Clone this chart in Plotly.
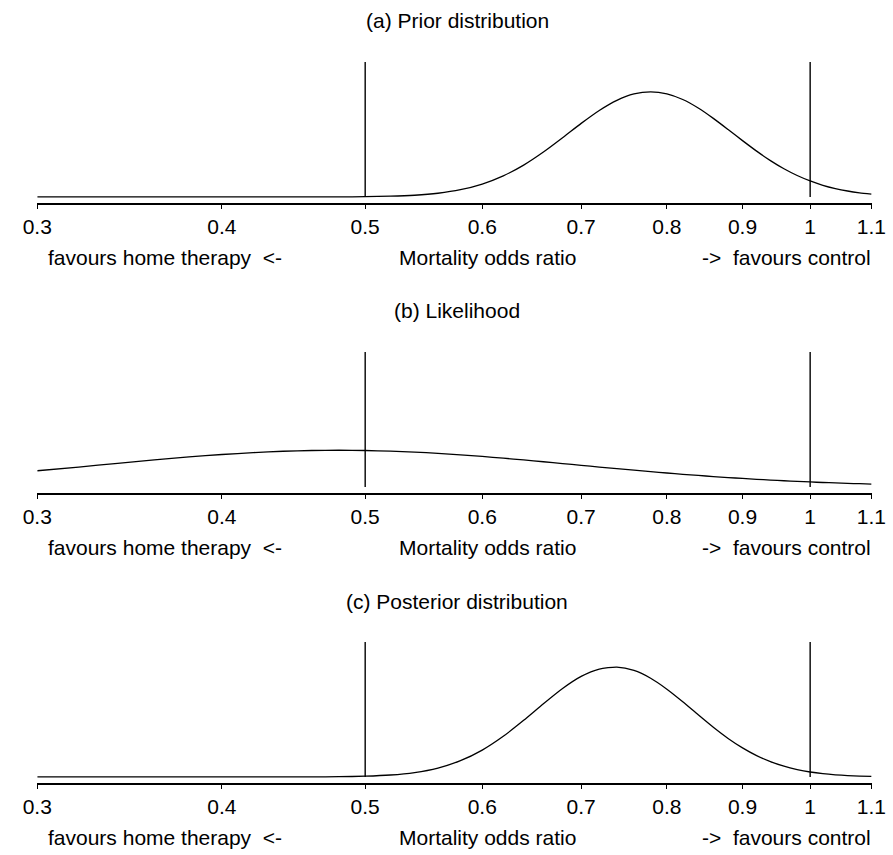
import math
import plotly.graph_objects as go

# ---- data ----
odds_ratio = [0.30, 0.32, 0.34, 0.36, 0.38, 0.40, 0.42, 0.44, 0.46, 0.48,
              0.50, 0.52, 0.54, 0.56, 0.58, 0.60, 0.62, 0.64, 0.66, 0.68,
              0.70, 0.72, 0.74, 0.76, 0.78, 0.80, 0.82, 0.84, 0.86, 0.88,
              0.90, 0.92, 0.94, 0.96, 0.98, 1.00, 1.02, 1.04, 1.06, 1.08, 1.10]

prior = [0, 0, 0, 0, 0, 0, 0, 0, 0.001, 0.002,
         0.008, 0.021, 0.050, 0.109, 0.214, 0.382, 0.625, 0.944, 1.331, 1.755,
         2.181, 2.564, 2.864, 3.054, 3.117, 3.056, 2.888, 2.636, 2.329, 1.998,
         1.669, 1.357, 1.077, 0.835, 0.635, 0.474, 0.346, 0.249, 0.176, 0.123, 0.085]

likelihood = [0.479, 0.590, 0.699, 0.800, 0.888, 0.961, 1.017, 1.057, 1.080, 1.087,
              1.080, 1.061, 1.032, 0.995, 0.952, 0.904, 0.852, 0.800, 0.746, 0.693,
              0.641, 0.590, 0.542, 0.496, 0.453, 0.413, 0.375, 0.340, 0.308, 0.278,
              0.251, 0.226, 0.203, 0.183, 0.164, 0.147, 0.132, 0.118, 0.106, 0.095, 0.085]

posterior = [0, 0, 0, 0, 0, 0, 0, 0, 0.002, 0.007,
             0.022, 0.057, 0.130, 0.264, 0.482, 0.796, 1.204, 1.678, 2.171, 2.624,
             2.982, 3.199, 3.255, 3.156, 2.926, 2.602, 2.229, 1.842, 1.472, 1.141,
             0.861, 0.632, 0.453, 0.317, 0.218, 0.146, 0.097, 0.063, 0.040, 0.025, 0.016]

ref_lines = [0.5, 1.0]
ref_top = 4.0

tick_vals = [0.3, 0.4, 0.5, 0.6, 0.7, 0.8, 0.9, 1.0, 1.1]
tick_text = ["0.3", "0.4", "0.5", "0.6", "0.7", "0.8", "0.9", "1", "1.1"]

panel_titles = ["(a) Prior distribution", "(b) Likelihood", "(c) Posterior distribution"]
series = [prior, likelihood, posterior]
left_label = "favours home therapy\u00a0\u00a0<-"
mid_label = "Mortality odds ratio"
right_label = "->\u00a0\u00a0favours control"

# ---- layout geometry ----
W, H = 893, 855
x_left_px, x_right_px = 23, 886
axis_px = [203, 493, 783]
plot_h = 141
FONT = "Liberation Sans, Arial, Helvetica, sans-serif"
FS = 21

fig = go.Figure()
annotations = []
for i, (title, ys) in enumerate(zip(panel_titles, series)):
    n = "" if i == 0 else str(i + 1)
    xa, ya = "x" + n, "y" + n
    fig.add_trace(go.Scatter(x=odds_ratio, y=ys, mode="lines",
                             line=dict(color="black", width=1.3, shape="spline", smoothing=0.6),
                             xaxis=xa, yaxis=ya, showlegend=False, hoverinfo="skip"))
    for rl in ref_lines:
        fig.add_trace(go.Scatter(x=[rl, rl], y=[0, ref_top], mode="lines",
                                 line=dict(color="black", width=1.4),
                                 xaxis=xa, yaxis=ya, showlegend=False, hoverinfo="skip"))
    bottom = 1 - axis_px[i] / H
    top = 1 - (axis_px[i] - plot_h) / H
    fig.layout["xaxis" + n] = dict(
        type="log", range=[math.log10(0.3), math.log10(1.1) + 0.0006],
        domain=[x_left_px / W, x_right_px / W], anchor=ya,
        showline=True, linecolor="black", linewidth=1.5, mirror=False,
        ticks="outside", ticklen=4, tickwidth=1.3, tickcolor="black",
        tickvals=tick_vals, ticktext=tick_text, showgrid=False, zeroline=False,
        ticklabeloverflow="allow",
        tickfont=dict(family=FONT, size=FS, color="black"), fixedrange=True)
    fig.layout["yaxis" + n] = dict(
        domain=[bottom, top], range=[-0.18, ref_top], anchor=xa,
        visible=False, showgrid=False, zeroline=False, fixedrange=True)
    annotations.append(dict(text=title, xref="paper", yref="paper",
                            x=457 / W, y=1 - (axis_px[i] - 182) / H,
                            xanchor="center", yanchor="middle", showarrow=False,
                            font=dict(family=FONT, size=FS, color="black")))
    lab_y = 1 - (axis_px[i] + 54) / H
    annotations.append(dict(text=left_label, xref="paper", yref="paper",
                            x=32 / W, y=lab_y, xanchor="left", yanchor="middle",
                            showarrow=False, font=dict(family=FONT, size=FS, color="black")))
    annotations.append(dict(text=mid_label, xref="paper", yref="paper",
                            x=395 / W, y=lab_y, xanchor="left", yanchor="middle",
                            showarrow=False, font=dict(family=FONT, size=FS, color="black")))
    annotations.append(dict(text=right_label, xref="paper", yref="paper",
                            x=887 / W, y=lab_y, xanchor="right", yanchor="middle",
                            showarrow=False, font=dict(family=FONT, size=FS, color="black")))

fig.update_layout(width=W, height=H, margin=dict(l=0, r=0, t=0, b=0),
                  paper_bgcolor="white", plot_bgcolor="white",
                  annotations=annotations, font=dict(family=FONT, size=FS, color="black"))

fig.write_html("out.html", config={"displayModeBar": False})
